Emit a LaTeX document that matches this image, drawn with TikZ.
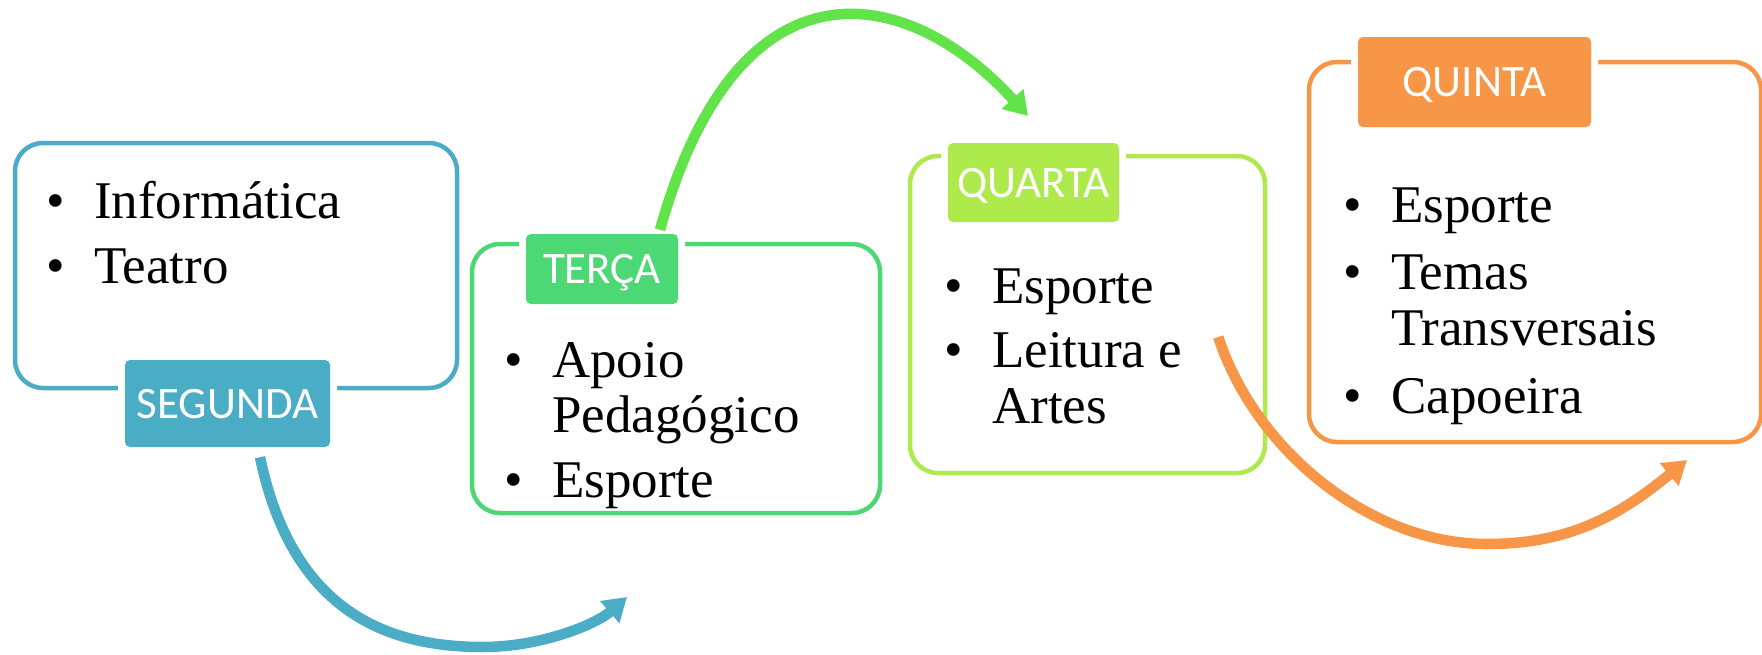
\documentclass[tikz,border=0pt]{standalone}
\usepackage{fontspec}
\setmainfont{Liberation Serif}
\newfontfamily\tagfamily{Carlito}
\usetikzlibrary{arrows.meta,positioning,calc}

\definecolor{segblue}{HTML}{4BACC6}
\definecolor{tergreen}{HTML}{4CD874}
\definecolor{arcgreen}{HTML}{62E34A}
\definecolor{quagreen}{HTML}{AEEA4B}
\definecolor{quiorange}{HTML}{F79646}

\newcommand{\listfont}{\fontsize{53}{58}\selectfont}
\newcommand{\daytagfont}{\tagfamily\fontsize{45}{45}\selectfont}

\begin{document}
\begin{tikzpicture}[x=1pt, y=-1pt,
    daybox/.style={rectangle, draw=#1, line width=4.5pt, rounded corners=28pt, inner sep=0pt},
    daytag/.style={rectangle, fill=#1, rounded corners=5pt, preaction={draw=white, line width=14pt},
        text=white, font=\daytagfont, inner sep=0pt, text depth=0pt},
    bul/.style={anchor=base west, inner sep=0pt, font=\listfont},
    txt/.style={anchor=base west, inner sep=0pt, font=\listfont},
    flow/.style={line width=10.5pt, -{Triangle[length=23pt,width=28pt]}}]
    \useasboundingbox (0,0) rectangle (1762,654);

    % the four day boxes
    \node[daybox=segblue, minimum width=442pt, minimum height=245pt] (segbox) at (236,265.5) {};
    \node[daybox=tergreen, minimum width=408pt, minimum height=269pt] (terbox) at (676,378.5) {};
    \node[daybox=quagreen, minimum width=355pt, minimum height=317pt] (quabox) at (1087.5,314.5) {};
    \node[daybox=quiorange, minimum width=452pt, minimum height=380pt] (quibox) at (1535,252) {};

    % day tags
    \node[daytag=segblue, minimum width=205pt, minimum height=87pt] (seglabel) at (227.5,403.5) {SEGUNDA};
    \node[daytag=tergreen, minimum width=152pt, minimum height=70pt] (terlabel) at (602,269) {TERÇA};
    \node[daytag=quagreen, minimum width=171pt, minimum height=79pt] (qualabel) at (1033.5,182.5) {QUARTA};
    \node[daytag=quiorange, minimum width=233pt, minimum height=90pt] (quilabel) at (1474.5,82) {QUINTA};

    % segunda
    \node[bul] (segb1) at (46,218) {•};
    \node[txt] (segt1) at (94,218) {Informática};
    \node[bul] (segb2) at (46,283) {•};
    \node[txt] (segt2) at (94,283) {Teatro};

    % terca
    \node[bul] (terb1) at (504,377) {•};
    \node[txt] (tert1) at (552,377) {Apoio};
    \node[txt] (tert1b) at (552,432) {Pedagógico};
    \node[bul] (terb2) at (504,497) {•};
    \node[txt] (tert2) at (552,497) {Esporte};

    % quarta
    \node[bul] (quab1) at (944,303) {•};
    \node[txt] (quat1) at (992,303) {Esporte};
    \node[bul] (quab2) at (944,367) {•};
    \node[txt] (quat2) at (992,367) {Leitura e};
    \node[txt] (quat2b) at (992,423) {Artes};

    % quinta
    \node[bul] (quib1) at (1343,222) {•};
    \node[txt] (quit1) at (1391,222) {Esporte};
    \node[bul] (quib2) at (1343,289) {•};
    \node[txt] (quit2) at (1391,289) {Temas};
    \node[txt] (quit2b) at (1391,345) {Transversais};
    \node[bul] (quib3) at (1343,413) {•};
    \node[txt] (quit3) at (1391,413) {Capoeira};

    % curved arrows
    \coordinate (segend) at (627,597);
    \coordinate (terend) at (1028,116);
    \coordinate (quaend) at (1687,460);
    \draw[flow, segblue] ([xshift=32.5pt,yshift=-10pt]seglabel.south)
        .. controls (292,610) and (385,647) .. (483,647)
        .. controls (540,647) and (595,625) .. (segend);
    \draw[flow, arcgreen] ([xshift=58pt,yshift=4pt]terlabel.north)
        .. controls (738,-50) and (907,-17) .. (terend);
    \draw[flow, quiorange] ([xshift=-49pt,yshift=-22.5pt]quabox.east)
        .. controls (1255,450) and (1370,544) .. (1487,544)
        .. controls (1570,544) and (1620,515) .. (quaend);
\end{tikzpicture}
\end{document}
